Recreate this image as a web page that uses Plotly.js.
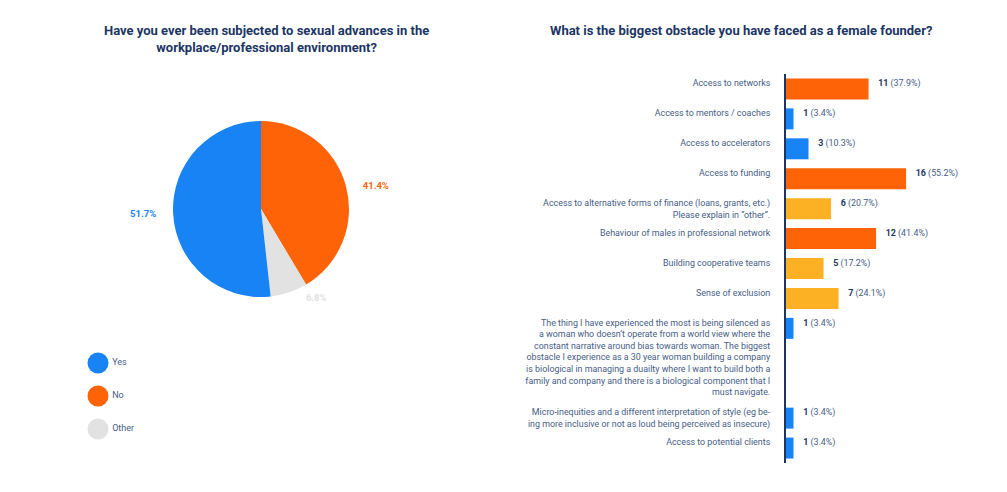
<!DOCTYPE html>
<html>
<head>
<meta charset="utf-8">
<script src="https://cdn.plot.ly/plotly-3.0.1.min.js"></script>
<style>html,body{margin:0;padding:0;background:#fff}</style>
</head>
<body>
<div id="chart" style="width:1007px;height:492px"></div>
<script>
// left: sexual advances question (pie, clockwise from 12 o'clock)
var pieLabels = ["No", "Other", "Yes"];
var piePct = [41.4, 6.8, 51.7];
var legendLabels = ["Yes", "No", "Other"];

// right: biggest obstacle as a female founder
var obstacles = [
  "Access to networks",
  "Access to mentors / coaches",
  "Access to accelerators",
  "Access to funding",
  "Access to alternative forms of finance (loans, grants, etc.)<br>Please explain in \u201cother\u201d.",
  "Behaviour of males in professional network",
  "Building cooperative teams",
  "Sense of exclusion",
  "The thing I have experienced the most is being silenced as<br>a woman who doesn\u2019t operate from a world view where the<br>constant narrative around bias towards woman. The biggest<br>obstacle I experience as a 30 year woman building a company<br>is biological in managing a duailty where I want to build both a<br>family and company and there is a biological component that I<br>must navigate.",
  "Micro-inequities and a different interpretation of style (eg be-<br>ing more inclusive or not as loud being perceived as insecure)",
  "Access to potential clients"
];
var counts = [11, 1, 3, 16, 6, 12, 5, 7, 1, 1, 1];
var pcts = ["37.9", "3.4", "10.3", "55.2", "20.7", "41.4", "17.2", "24.1", "3.4", "3.4", "3.4"];

var BLUE = "#1783f5", ORANGE = "#ff6308", GREY = "#e2e2e2", AMBER = "#fcb023";
var NAVY = "#1c3664", SLATE = "#475d85";
var FONT = "Roboto, Liberation Sans, sans-serif";

var sliceColors = {Yes: BLUE, No: ORANGE, Other: GREY};
var barColors = [ORANGE, BLUE, BLUE, ORANGE, AMBER, ORANGE, AMBER, AMBER, BLUE, BLUE, BLUE];

// labels sit at the top of each bar: pad so the first line lands there
function padLabel(s) {
  var n = s.split("<br>").length;
  var blank = "\u00a0<br>";
  if (n >= 2) return blank.repeat(n - 2) + s;
  return s + "<br>\u00a0";
}

// the long answer gets room below it
var catOrder = obstacles.slice(0, 9).concat([" ", "  "], obstacles.slice(9));
var pad = "\u00a0\u00a0\u00a0\u00a0\u00a0\u00a0";

var pie = {
  type: "pie",
  labels: pieLabels,
  values: piePct,
  sort: false,
  direction: "clockwise",
  rotation: 0,
  marker: {colors: pieLabels.map(function (l) { return sliceColors[l]; }), line: {width: 0}},
  texttemplate: pad + "<b>%{value}%</b>" + pad,
  textposition: "outside",
  outsidetextfont: {family: FONT, size: 9.5, color: pieLabels.map(function (l) { return sliceColors[l]; })},
  domain: {x: [173 / 1007, 349 / 1007], y: [0.3963, 0.754]},
  showlegend: false,
  hoverinfo: "label+percent"
};

var legendDots = {
  type: "scatter",
  mode: "markers+text",
  x: legendLabels.map(function () { return 0; }),
  y: legendLabels,
  xaxis: "x2",
  yaxis: "y2",
  marker: {size: 21, color: legendLabels.map(function (l) { return sliceColors[l]; })},
  text: legendLabels,
  textposition: "middle right",
  textfont: {family: FONT, size: 9, color: SLATE},
  showlegend: false,
  hoverinfo: "skip",
  cliponaxis: false
};

var bars = {
  type: "bar",
  orientation: "h",
  x: counts,
  y: obstacles,
  customdata: pcts,
  marker: {color: barColors},
  texttemplate: "\u00a0\u00a0\u00a0<b><span style=\"color:" + NAVY + "\">%{x}</span></b> (%{customdata}%)<br>\u00a0",
  textposition: "outside",
  constraintext: "none",
  cliponaxis: false,
  textfont: {family: FONT, size: 8.9, color: SLATE},
  showlegend: false,
  hoverinfo: "x+y"
};

var layout = {
  width: 1007,
  height: 492,
  margin: {l: 0, r: 0, t: 0, b: 0},
  paper_bgcolor: "#fff",
  plot_bgcolor: "rgba(0,0,0,0)",
  font: {family: FONT, color: SLATE},
  bargap: 0.3,
  xaxis: {domain: [786 / 1007, 0.99], range: [0, 28.1], visible: false, fixedrange: true},
  yaxis: {
    domain: [0.0589, 0.8496],
    type: "category",
    categoryorder: "array",
    categoryarray: catOrder,
    range: [catOrder.length - 0.5, -0.5],
    tickvals: obstacles,
    ticktext: obstacles.map(padLabel),
    ticks: "",
    ticklabelstandoff: 12,
    tickfont: {family: FONT, size: 8.9, color: SLATE},
    showgrid: false,
    zeroline: false,
    showline: true,
    linecolor: NAVY,
    linewidth: 2,
    automargin: false,
    fixedrange: true
  },
  xaxis2: {domain: [88 / 1007, 188 / 1007], range: [-0.1, 0.9], visible: false, anchor: "y2"},
  yaxis2: {domain: [0.0945, 0.2957], type: "category", categoryarray: legendLabels, categoryorder: "array",
           range: [2.5, -0.5], visible: false, anchor: "x2"},
  annotations: [
    {text: "<b>Have you ever been subjected to sexual advances in the<br>workplace/professional environment?</b>",
     xref: "paper", yref: "paper", x: 266 / 1007, y: 1 - 39 / 492, xanchor: "center", yanchor: "middle",
     showarrow: false, font: {family: FONT, size: 13, color: NAVY}},
    {text: "<b>What is the biggest obstacle you have faced as a female founder?</b>",
     xref: "paper", yref: "paper", x: 741 / 1007, y: 1 - 31 / 492, xanchor: "center", yanchor: "middle",
     showarrow: false, font: {family: FONT, size: 13, color: NAVY}}
  ]
};

Plotly.newPlot("chart", [pie, legendDots, bars], layout, {displayModeBar: false, staticPlot: true});
</script>
</body>
</html>
